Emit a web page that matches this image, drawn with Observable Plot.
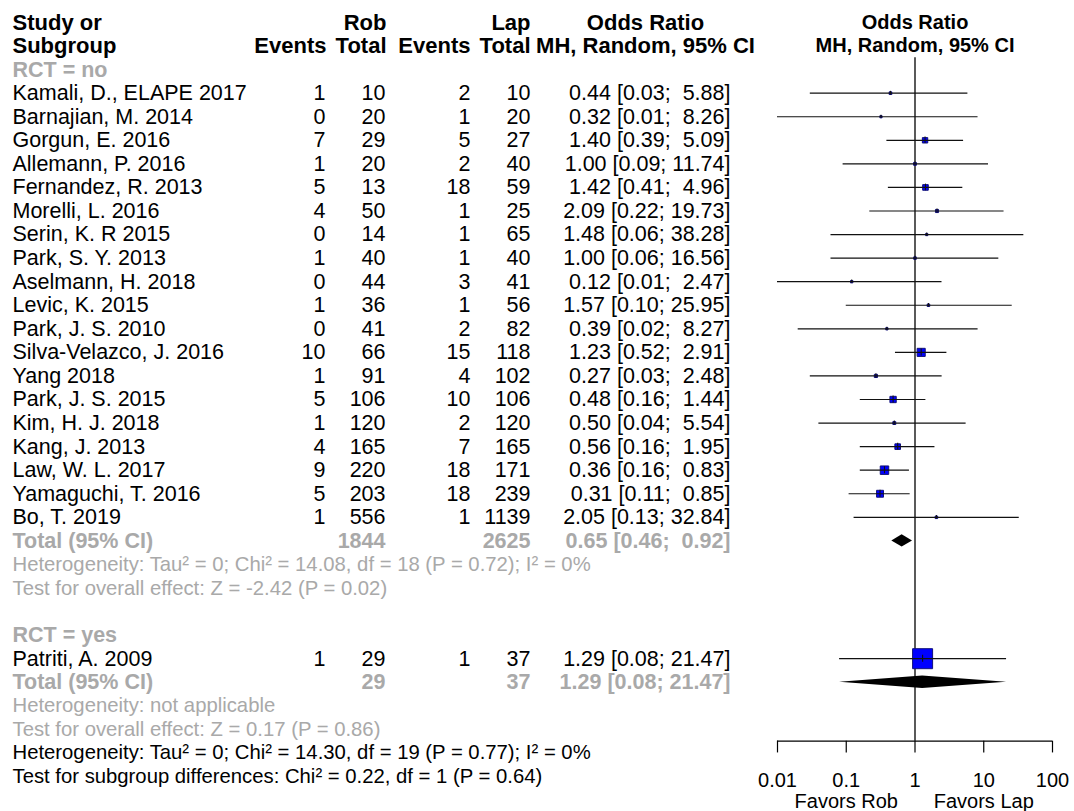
<!DOCTYPE html>
<html><head><meta charset="utf-8">
<script src="https://cdn.jsdelivr.net/npm/d3@7"></script>
<script src="https://cdn.jsdelivr.net/npm/@observablehq/plot@0.6"></script>
<style>
body{margin:0;background:#fff;}
#chart svg text{white-space:pre;}
</style></head><body><div id="chart"></div>
<script>
// ---- data ----
const studies = ["Kamali, D., ELAPE 2017","Barnajian, M. 2014","Gorgun, E. 2016","Allemann, P. 2016","Fernandez, R. 2013","Morelli, L. 2016","Serin, K. R 2015","Park, S. Y. 2013","Aselmann, H. 2018","Levic, K. 2015","Park, J. S. 2010","Silva-Velazco, J. 2016","Yang 2018","Park, J. S. 2015","Kim, H. J. 2018","Kang, J. 2013","Law, W. L. 2017","Yamaguchi, T. 2016","Bo, T. 2019","Patriti, A. 2009"];
const subgroupOf = ["no","no","no","no","no","no","no","no","no","no","no","no","no","no","no","no","no","no","no","yes"];
const robEvents = [1,0,7,1,5,4,0,1,0,1,0,10,1,5,1,4,9,5,1,1];
const robTotal  = [10,20,29,20,13,50,14,40,44,36,41,66,91,106,120,165,220,203,556,29];
const lapEvents = [2,1,5,2,18,1,1,1,3,1,2,15,4,10,2,7,18,18,1,1];
const lapTotal  = [10,20,27,40,59,25,65,40,41,56,82,118,102,106,120,165,171,239,1139,37];
const orEst   = [0.44,0.32,1.40,1.00,1.42,2.09,1.48,1.00,0.12,1.57,0.39,1.23,0.27,0.48,0.50,0.56,0.36,0.31,2.05,1.29];
const orLower = [0.03,0.01,0.39,0.09,0.41,0.22,0.06,0.06,0.01,0.10,0.02,0.52,0.03,0.16,0.04,0.16,0.16,0.11,0.13,0.08];
const orUpper = [5.88,8.26,5.09,11.74,4.96,19.73,38.28,16.56,2.47,25.95,8.27,2.91,2.48,1.44,5.54,1.95,0.83,0.85,32.84,21.47];
// weight within subgroup (%), estimated from the square sizes
const weightPct = [1.8,1.2,7.3,2.0,7.9,2.4,1.2,1.6,1.4,1.6,1.3,16.4,2.5,10.0,2.1,7.9,17.9,12.0,1.6,100];

const groups = ["no","yes"];
const groupLabel = ["RCT = no","RCT = yes"];
const groupRobTotal = [1844, 29];
const groupLapTotal = [2625, 37];
const groupEst = [0.65, 1.29];
const groupLower = [0.46, 0.08];
const groupUpper = [0.92, 21.47];
const groupHet = ["Heterogeneity: Tau² = 0; Chi² = 14.08, df = 18 (P = 0.72); I² = 0%","Heterogeneity: not applicable"];
const groupTest = ["Test for overall effect: Z = -2.42 (P = 0.02)","Test for overall effect: Z = 0.17 (P = 0.86)"];
const overallNotes = ["Heterogeneity: Tau² = 0; Chi² = 14.30, df = 19 (P = 0.77); I² = 0%","Test for subgroup differences: Chi² = 0.22, df = 1 (P = 0.64)"];
const axisTicks = [0.01, 0.1, 1, 10, 100];
const axisTickLabels = ["0.01","0.1","1","10","100"];
const favorLabels = ["Favors Rob","Favors Lap"];
const favorAnchors = [0.1, 10];

// ---- layout (row units) ----
const GRAY = "#a9a9a9";
const FS = 21.5;    // table text
const FSH = 22;     // table headers
const FSN = 20.3;   // heterogeneity / test notes
const FSP = 20;     // plot column text
const font = "Liberation Sans, Arial, Helvetica, sans-serif";
const rowStep = 23.5625;
const maxSide = 20; // px side of a 100% weight square

let row = 2;
const studyRows = [], labelRows = [], totalRows = [], noteRows = [];
groups.forEach((g, gi) => {
  labelRows.push({row, text: groupLabel[gi]});
  row++;
  studies.forEach((s, i) => {
    if (subgroupOf[i] !== g) return;
    const side = maxSide * Math.sqrt(weightPct[i] / 100);
    studyRows.push({row, label: s, re: robEvents[i], rt: robTotal[i], le: lapEvents[i], lt: lapTotal[i],
      est: orEst[i], lo: orLower[i], hi: orUpper[i], w: weightPct[i], tick: Math.min(side / 2 + 0.5, 3.5) / rowStep});
    row++;
  });
  totalRows.push({row, rt: groupRobTotal[gi], lt: groupLapTotal[gi], est: groupEst[gi], lo: groupLower[gi], hi: groupUpper[gi], g});
  row++;
  noteRows.push({row, text: groupHet[gi], fill: GRAY}); row++;
  noteRows.push({row, text: groupTest[gi], fill: GRAY}); row++;
  if (gi === 0) row++;
});
overallNotes.forEach(t => { noteRows.push({row, text: t, fill: "black"}); row++; });

const diamondH = 0.26;
const diamonds = totalRows.flatMap(d => [
  {g: d.g, x: d.lo, y1: d.row, y2: d.row},
  {g: d.g, x: d.est, y1: d.row - diamondH, y2: d.row + diamondH},
  {g: d.g, x: d.hi, y1: d.row, y2: d.row}
]);

const f2 = v => v.toFixed(2);
const ciText = d => f2(d.est) + " [" + f2(d.lo) + "; " + (d.hi < 10 ? " " : "") + f2(d.hi) + "]";

const header = [
  {row: 0, text: "Study or", x: 12, a: "start"},
  {row: 1, text: "Subgroup", x: 12, a: "start"},
  {row: 0, text: "Rob", x: 386, a: "end"},
  {row: 1, text: "Events", x: 326, a: "end"},
  {row: 1, text: "Total", x: 386, a: "end"},
  {row: 0, text: "Lap", x: 530, a: "end"},
  {row: 1, text: "Events", x: 470, a: "end"},
  {row: 1, text: "Total", x: 530, a: "end"},
  {row: 0, text: "Odds Ratio", x: 645, a: "middle"},
  {row: 1, text: "MH, Random, 95% CI", x: 645, a: "middle"}
];
const rightHeader = [
  {row: 0, text: "Odds Ratio"},
  {row: 1, text: "MH, Random, 95% CI"}
];

const txt = (data, opts) => Plot.text(data, {frameAnchor: "left", fontSize: FS, ...opts});

const cols = (data, fill, weight) => [
  txt(data, {y: "row", text: d => d.re === undefined ? "" : String(d.re), dx: 325, textAnchor: "end", fill, fontWeight: weight}),
  txt(data, {y: "row", text: d => String(d.rt), dx: 385, textAnchor: "end", fill, fontWeight: weight}),
  txt(data, {y: "row", text: d => d.le === undefined ? "" : String(d.le), dx: 470, textAnchor: "end", fill, fontWeight: weight}),
  txt(data, {y: "row", text: d => String(d.lt), dx: 530, textAnchor: "end", fill, fontWeight: weight}),
  txt(data, {y: "row", text: ciText, dx: 730, textAnchor: "end", fill, fontWeight: weight})
];

const chart = Plot.plot({
  width: 1074,
  height: 811,
  margin: 0,
  style: {fontFamily: font, background: "white", color: "black"},
  x: {type: "log", domain: [d3.min(axisTicks), d3.max(axisTicks)], range: [777, 1052], axis: null},
  y: {domain: [0, 32], range: [22, 22 + 32 * rowStep], axis: null},
  r: {type: "sqrt", domain: [0, 100], range: [0, maxSide / Math.sqrt(Math.PI)]},
  marks: [
    // headers
    ...header.map(h => txt([h], {y: "row", text: "text", dx: h.x, textAnchor: h.a, fontWeight: "bold", fontSize: FSH})),
    Plot.text(rightHeader, {y: "row", x: () => 1, text: "text", fontWeight: "bold", fontSize: FSP}),
    // subgroup labels
    txt(labelRows, {y: "row", text: "text", dx: 12, textAnchor: "start", fill: GRAY, fontWeight: "bold"}),
    // studies
    txt(studyRows, {y: "row", text: "label", dx: 12, textAnchor: "start"}),
    ...cols(studyRows, "black", "normal"),
    // totals
    txt(totalRows, {y: "row", text: () => "Total (95% CI)", dx: 12, textAnchor: "start", fill: GRAY, fontWeight: "bold"}),
    ...cols(totalRows, GRAY, "bold"),
    // notes
    txt(noteRows, {y: "row", text: "text", dx: 12, textAnchor: "start", fill: d => d.fill, fontSize: FSN}),
    // reference line
    Plot.ruleX([1], {y1: 1.5, y2: 30.5, stroke: "black", strokeWidth: 1.3}),
    // study squares and CIs
    Plot.dot(studyRows, {x: "est", y: "row", r: "w", symbol: "square", fill: "#0000ff", stroke: "#10107a", strokeWidth: 1}),
    Plot.ruleY(studyRows, {y: "row", x1: "lo", x2: "hi", stroke: "#111", strokeWidth: 1.2}),
    Plot.ruleX(studyRows, {x: "est", y1: d => d.row - d.tick, y2: d => d.row + d.tick, stroke: "#111", strokeWidth: 1.1}),
    // diamonds
    Plot.areaY(diamonds, {x: "x", y1: "y1", y2: "y2", z: "g", fill: "black", curve: "linear"}),
    // axis
    Plot.ruleY([{y: 30.5}], {y: "y", x1: () => d3.min(axisTicks), x2: () => d3.max(axisTicks), stroke: "black", strokeWidth: 1.2}),
    Plot.ruleX(axisTicks, {x: d => d, y1: 30.5, y2: 31.0, stroke: "black", strokeWidth: 1.2}),
    Plot.text(axisTicks, {x: d => d, y: () => 32.17, text: (d, i) => axisTickLabels[i], fontSize: FSP}),
    Plot.text(favorAnchors, {x: d => d, y: () => 33.05, text: (d, i) => favorLabels[i], fontSize: FSP})
  ]
});
document.getElementById("chart").appendChild(chart);
</script>
</body></html>
